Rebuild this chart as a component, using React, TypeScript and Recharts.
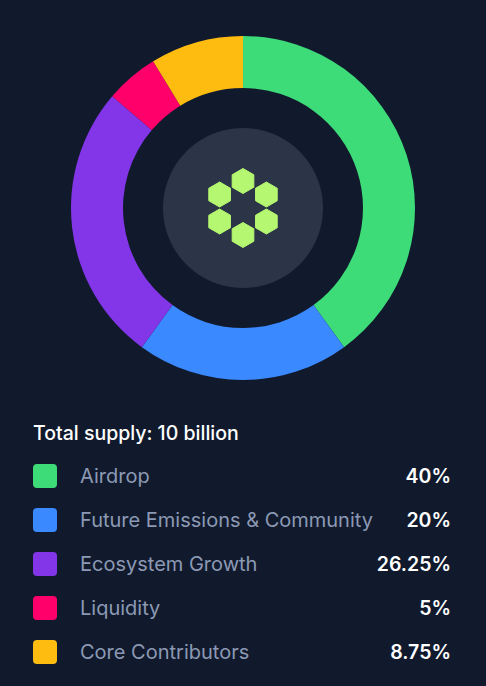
import { Cell, Pie, PieChart } from 'recharts';

const categories = ['Airdrop', 'Future Emissions & Community', 'Ecosystem Growth', 'Liquidity', 'Core Contributors'];
const shares = [40, 20, 26.25, 5, 8.75];
const shareLabels = ['40%', '20%', '26.25%', '5%', '8.75%'];
const colors = ['#3ddc78', '#3b89ff', '#8336e8', '#ff006a', '#ffbc10'];
const totalLabel = 'Total supply: 10 billion';

const data = categories.map((name, i) => ({ name, value: shares[i] }));
const hub = [{ name: 'hub', value: 1 }];

const BG = '#111a2d';
const FONT = 'Inter, "Noto Sans", sans-serif';
const CX = 243;
const CY = 208;

// six-hexagon logo that sits on the centre disc
const HexLogo = () => {
  const ring = 27;
  const r = 12.5;
  const hexes = [0, 1, 2, 3, 4, 5].map((k) => {
    const a = (-90 + k * 60) * (Math.PI / 180);
    const hx = CX + ring * Math.cos(a);
    const hy = CY + ring * Math.sin(a);
    const pts = [0, 1, 2, 3, 4, 5]
      .map((j) => {
        const b = (-90 + j * 60) * (Math.PI / 180);
        return `${hx + r * Math.cos(b)},${hy + r * Math.sin(b)}`;
      })
      .join(' ');
    return <polygon key={k} points={pts} fill="#b5f770" stroke="#b5f770" strokeWidth={1} strokeLinejoin="round" />;
  });
  return (
    <svg width={486} height={400} style={{ position: 'absolute', left: 0, top: 0, pointerEvents: 'none' }}>
      {hexes}
    </svg>
  );
};

export default function App() {
  return (
    <div style={{ position: 'relative', width: 486, height: 686, background: BG, fontFamily: FONT, overflow: 'hidden' }}>
      <style>{'body{margin:0;background:' + BG + '}'}</style>
      <PieChart width={486} height={400} margin={{ top: 0, right: 0, bottom: 0, left: 0 }}>
        <Pie
          data={hub}
          dataKey="value"
          cx={CX}
          cy={CY}
          innerRadius={0}
          outerRadius={80}
          fill="#2c3548"
          stroke="none"
          isAnimationActive={false}
        />
        <Pie
          data={data}
          dataKey="value"
          cx={CX}
          cy={CY}
          innerRadius={120}
          outerRadius={172}
          startAngle={90}
          endAngle={-270}
          stroke="none"
          isAnimationActive={false}
        >
          {data.map((d, i) => (
            <Cell key={d.name} fill={colors[i]} />
          ))}
        </Pie>
      </PieChart>
      <HexLogo />
      <div style={{ position: 'absolute', left: 33, top: 421, height: 24, lineHeight: '24px', fontSize: 19.5, fontWeight: 500, color: '#ffffff' }}>
        {totalLabel}
      </div>
      {categories.map((name, i) => (
        <div
          key={name}
          style={{ position: 'absolute', left: 33, top: 454 + i * 44, width: 418, height: 44, display: 'flex', alignItems: 'center' }}
        >
          <div style={{ width: 24, height: 24, borderRadius: 4, background: colors[i], flex: 'none' }} />
          <div style={{ marginLeft: 23, fontSize: 20, color: '#8c99b4', flex: 1, whiteSpace: 'nowrap' }}>{name}</div>
          <div style={{ fontSize: 19.5, fontWeight: 600, color: '#ffffff' }}>{shareLabels[i]}</div>
        </div>
      ))}
    </div>
  );
}
